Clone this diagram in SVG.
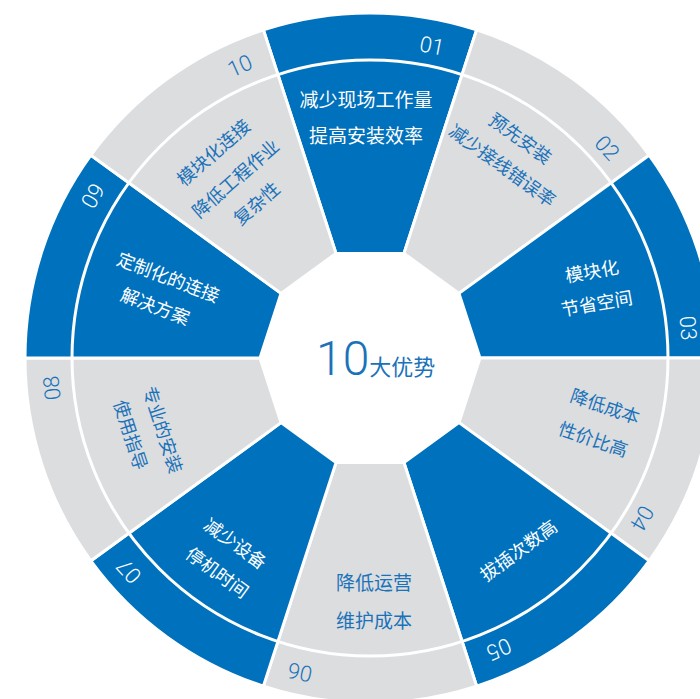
<svg xmlns="http://www.w3.org/2000/svg" width="700" height="699" viewBox="0 0 700 699">
<style>
.b{fill:#0071bc;stroke:#fff;stroke-width:3;stroke-linejoin:miter}
.g{fill:#dcdddf;stroke:#fff;stroke-width:3;stroke-linejoin:miter}
text{font-family:"Liberation Sans","Noto Sans CJK SC",sans-serif;text-anchor:middle;dominant-baseline:central}
.tw{fill:#ffffff;font-size:18px}
.tb{fill:#1a72b9;font-size:18px}
.nw,.nb{font-family:"Roboto","Liberation Sans",sans-serif;font-weight:300;font-size:22px}
.nw{fill:#ffffff}
.nb{fill:#1a72b9}
</style>
<rect width="700" height="699" fill="#ffffff"/>
<g id="connectors">
</g>
<g id="seg01">
<path class="b" d="M336.01,253.38 L263.39,29.88 A345,345 0 0 1 476.61,29.88 L403.99,253.38 Z"/>
<text class="nw" transform="translate(432,46) rotate(11)">01</text>
<text class="tw" style="font-size:19px" x="366" y="100">减少现场工作量</text>
<text class="tw" style="font-size:19px" x="366" y="136">提高安装效率</text>
</g>
<g id="seg02">
<path class="g" d="M403.99,253.38 L476.61,29.88 A345,345 0 0 1 649.11,155.21 L458.99,293.34 Z"/>
<text class="nb" transform="translate(607,148) rotate(48)">02</text>
<text class="tb" transform="translate(520,139) rotate(36)">预先安装</text>
<text class="tb" transform="translate(502,166) rotate(36)">减少接线错误率</text>
</g>
<g id="seg03">
<path class="b" d="M458.99,293.34 L649.11,155.21 A345,345 0 0 1 715,358 L480,358 Z"/>
<text class="nw" transform="translate(688,328) rotate(85)">03</text>
<text class="tw" transform="translate(592,272) rotate(-10)">模块化</text>
<text class="tw" transform="translate(597,304) rotate(-10)">节省空间</text>
</g>
<g id="seg04">
<path class="g" d="M480,358 L715,358 A345,345 0 0 1 649.11,560.79 L458.99,422.66 Z"/>
<text class="nb" transform="translate(642,518) rotate(120)">04</text>
<text class="tb" transform="translate(605,407) rotate(19)">降低成本</text>
<text class="tb" transform="translate(593,440) rotate(19)">性价比高</text>
</g>
<g id="seg05">
<path class="b" d="M458.99,422.66 L649.11,560.79 A345,345 0 0 1 476.61,686.12 L403.99,462.62 Z"/>
<text class="nw" transform="translate(499,649) rotate(156)">05</text>
<text class="tw" transform="translate(519,551) rotate(-36)">拔插次数高</text>
</g>
<g id="seg06">
<path class="g" d="M403.99,462.62 L476.61,686.12 A345,345 0 0 1 263.39,686.12 L336.01,462.62 Z"/>
<text class="nb" transform="translate(300,672) rotate(192)">06</text>
<text class="tb" style="font-size:19px" x="374" y="583">降低运营</text>
<text class="tb" style="font-size:19px" x="374" y="621">维护成本</text>
</g>
<g id="seg07">
<path class="b" d="M336.01,462.62 L263.39,686.12 A345,345 0 0 1 90.89,560.79 L281.01,422.66 Z"/>
<text class="nw" transform="translate(129,571) rotate(228)">07</text>
<text class="tw" transform="translate(235,544) rotate(36)">减少设备</text>
<text class="tw" transform="translate(217,573) rotate(36)">停机时间</text>
</g>
<g id="seg08">
<path class="g" d="M281.01,422.66 L90.89,560.79 A345,345 0 0 1 25,358 L260,358 Z"/>
<text class="nb" transform="translate(52,388) rotate(264)">08</text>
<text class="tb" transform="translate(162,430) rotate(72)">专业的安装</text>
<text class="tb" transform="translate(130,435) rotate(72)">使用指导</text>
</g>
<g id="seg09">
<path class="b" d="M260,358 L25,358 A345,345 0 0 1 90.89,155.21 L281.01,293.34 Z"/>
<text class="nw" transform="translate(93,196) rotate(300)">09</text>
<text class="tw" transform="translate(168,278) rotate(21)">定制化的连接</text>
<text class="tw" transform="translate(155,307) rotate(21)">解决方案</text>
</g>
<g id="seg10">
<path class="g" d="M281.01,293.34 L90.89,155.21 A345,345 0 0 1 263.39,29.88 L336.01,253.38 Z"/>
<text class="nb" transform="translate(240,66) rotate(336)">10</text>
<text class="tb" transform="translate(214,153) rotate(-41)">模块化连接</text>
<text class="tb" transform="translate(236,179) rotate(-41)">降低工程作业</text>
<text class="tb" transform="translate(257,204) rotate(-41)">复杂性</text>
</g>
<g id="ring">
<circle cx="370" cy="358" r="298" fill="none" stroke="#ffffff" stroke-width="3"/>
</g>
<g id="center">
<polygon points="480,358 458.99,422.66 403.99,462.62 336.01,462.62 281.01,422.66 260,358 281.01,293.34 336.01,253.38 403.99,253.38 458.99,293.34" fill="#ffffff"/>
<text x="316" y="375" style="text-anchor:start;dominant-baseline:alphabetic;fill:#1a72b9"><tspan style="font-family:'Roboto','Liberation Sans',sans-serif;font-weight:300;font-size:48px">10</tspan><tspan style="font-size:22px">大优势</tspan></text>
</g>
</svg>
